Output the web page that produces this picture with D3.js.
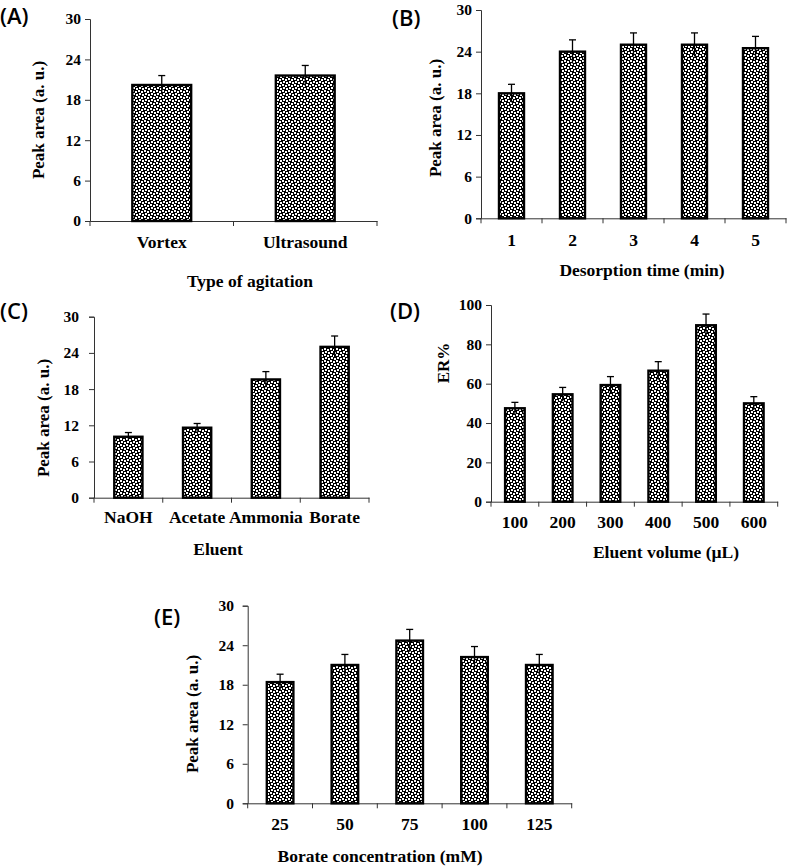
<!DOCTYPE html>
<html>
<head>
<meta charset="utf-8">
<script src="https://cdn.jsdelivr.net/npm/d3@7"></script>
<style>
  html, body { margin: 0; padding: 0; background: #fff; }
  svg { display: block; }
</style>
</head>
<body>
<svg id="chart" width="787" height="867"></svg>
<script>
// ---------------- data ----------------
const peakTicks = [0, 6, 12, 18, 24, 30];
const erTicks = [0, 20, 40, 60, 80, 100];

const agitationCats = ["Vortex", "Ultrasound"];
const agitationVals = [20.2, 21.6];
const agitationErr = [1.4, 1.5];

const timeCats = ["1", "2", "3", "4", "5"];
const timeVals = [18.0, 24.0, 25.0, 25.0, 24.5];
const timeErr = [1.3, 1.7, 1.7, 1.7, 1.7];

const eluentCats = ["NaOH", "Acetate", "Ammonia", "Borate"];
const eluentVals = [10.1, 11.6, 19.6, 25.0];
const eluentErr = [0.7, 0.7, 1.3, 1.8];

const volumeCats = ["100", "200", "300", "400", "500", "600"];
const volumeVals = [47.5, 54.6, 59.3, 66.6, 89.7, 50.0];
const volumeErr = [3.0, 3.5, 4.3, 4.6, 5.7, 3.4];

const concCats = ["25", "50", "75", "100", "125"];
const concVals = [18.4, 21.0, 24.7, 22.2, 21.0];
const concErr = [1.2, 1.6, 1.7, 1.6, 1.6];

// ---------------- layout ----------------
const SERIF = "'Liberation Serif','Times New Roman',serif";
const SANS = "'Open Sans','Noto Sans',sans-serif";

const panels = [
  { tag: "(A)", tagX: 0, tagY: 24, cats: agitationCats, vals: agitationVals, err: agitationErr, ticks: peakTicks, max: 30,
    x0: 90, x1: 377, yBot: 221, yTop: 19, tickEnd: 81, catY: 248,
    title: "Type of agitation", titleX: 250, titleY: 287, ytitle: "Peak area (a. u.)", ytX: 38, ytY: 120 },
  { tag: "(B)", tagX: 392, tagY: 26, cats: timeCats, vals: timeVals, err: timeErr, ticks: peakTicks, max: 30,
    x0: 481, x1: 786, yBot: 218.3, yTop: 10, tickEnd: 472, catY: 246,
    title: "Desorption time (min)", titleX: 642, titleY: 276, ytitle: "Peak area (a. u.)", ytX: 435, ytY: 118 },
  { tag: "(C)", tagX: 0, tagY: 319, cats: eluentCats, vals: eluentVals, err: eluentErr, ticks: peakTicks, max: 30,
    x0: 94, x1: 369, yBot: 497.7, yTop: 316.7, tickEnd: 79, catY: 523,
    title: "Eluent", titleX: 218, titleY: 555, ytitle: "Peak area (a. u.)", ytX: 43, ytY: 418 },
  { tag: "(D)", tagX: 390, tagY: 319, cats: volumeCats, vals: volumeVals, err: volumeErr, ticks: erTicks, max: 100,
    x0: 491, x1: 777.7, yBot: 501.7, yTop: 305, tickEnd: 482, catY: 528,
    title: "Eluent volume (\u00B5L)", titleX: 666, titleY: 558, ytitle: "ER%", ytX: 443, ytY: 363 },
  { tag: "(E)", tagX: 154, tagY: 625, cats: concCats, vals: concVals, err: concErr, ticks: peakTicks, max: 30,
    x0: 247.7, x1: 571.7, yBot: 803.3, yTop: 605.7, tickEnd: 234, catY: 830,
    title: "Borate concentration (mM)", titleX: 380, titleY: 862, ytitle: "Peak area (a. u.)", ytX: 192, ytY: 714 }
];

const svg = d3.select("#chart");

// staggered speckle fill pattern
const defs = svg.append("defs");
const pat = defs.append("pattern").attr("id", "dots")
  .attr("patternUnits", "userSpaceOnUse").attr("width", 6).attr("height", 6);
pat.append("rect").attr("width", 6).attr("height", 6).attr("fill", "#000");
[[0, 0], [3, 1], [1, 3], [4, 4]].forEach(([px, py]) =>
  pat.append("rect").attr("x", px).attr("y", py).attr("width", 2).attr("height", 2).attr("fill", "#fff"));

function txt(g, x, y, s, opts) {
  const t = g.append("text")
    .attr("transform", `translate(${x},${y})` + (opts.rot ? " rotate(-90)" : ""))
    .attr("text-anchor", opts.anchor || "middle")
    .attr("font-family", opts.family || SERIF)
    .attr("font-weight", opts.weight || "bold")
    .attr("font-size", opts.size)
    .attr("fill", "#000")
    .text(s);
  if (opts.dy) t.attr("dy", opts.dy);
  return t;
}

panels.forEach(p => {
  const g = svg.append("g");
  const x = d3.scaleBand().domain(p.cats).range([p.x0, p.x1]).padding(0);
  const y = d3.scaleLinear().domain([0, p.max]).range([p.yBot, p.yTop]);
  const bw = x.bandwidth() * 0.41;

  // y axis
  const ya = g.append("g").attr("transform", `translate(${p.x0},0)`)
    .call(d3.axisLeft(y).tickValues(p.ticks).tickSize(5).tickFormat(""));
  ya.select(".domain").attr("stroke", "#333").attr("stroke-width", 1);
  ya.selectAll(".tick line").attr("stroke", "#333");

  p.ticks.forEach(v => txt(g, p.tickEnd, y(v), String(v), { size: 15.5, anchor: "end", dy: "0.35em" }));

  // x axis line + boundary ticks
  const xa = g.append("g").attr("transform", `translate(0,${p.yBot})`)
    .call(d3.axisBottom(x).tickSize(0).tickFormat(""));
  xa.select(".domain").attr("stroke", "#333").attr("stroke-width", 1);
  const bounds = p.cats.map(c => x(c)).concat([x(p.cats[p.cats.length - 1]) + x.step()]);
  g.selectAll(null).data(bounds).join("line")
    .attr("x1", d => d).attr("x2", d => d)
    .attr("y1", p.yBot).attr("y2", p.yBot + 5)
    .attr("stroke", "#333").attr("stroke-width", 1);

  // bars
  g.selectAll(null).data(p.cats).join("rect")
    .attr("x", c => x(c) + x.bandwidth() / 2 - bw / 2)
    .attr("width", bw)
    .attr("y", (c, i) => y(p.vals[i]))
    .attr("height", (c, i) => p.yBot - y(p.vals[i]))
    .attr("fill", "url(#dots)")
    .attr("stroke", "#000").attr("stroke-width", 2.4);

  // error bars
  const cx = c => x(c) + x.bandwidth() / 2;
  g.selectAll(null).data(p.cats).join("line")
    .attr("x1", cx).attr("x2", cx)
    .attr("y1", (c, i) => y(p.vals[i] - p.err[i]))
    .attr("y2", (c, i) => y(p.vals[i] + p.err[i]))
    .attr("stroke", "#000").attr("stroke-width", 1.3);
  g.selectAll(null).data(p.cats).join("line")
    .attr("x1", c => cx(c) - 3.5).attr("x2", c => cx(c) + 3.5)
    .attr("y1", (c, i) => y(p.vals[i] + p.err[i]))
    .attr("y2", (c, i) => y(p.vals[i] + p.err[i]))
    .attr("stroke", "#000").attr("stroke-width", 1.3);

  // category labels
  p.cats.forEach(c => txt(g, cx(c), p.catY, c, { size: 17.5 }));

  // titles
  txt(g, p.titleX, p.titleY, p.title, { size: 17.5 });
  txt(g, p.ytX, p.ytY, p.ytitle, { size: 17, rot: true, dy: "0.35em" });

  // panel tag
  txt(g, p.tagX, p.tagY, p.tag, { size: 22, anchor: "start", family: SANS, weight: "600" });
});
</script>
</body>
</html>
